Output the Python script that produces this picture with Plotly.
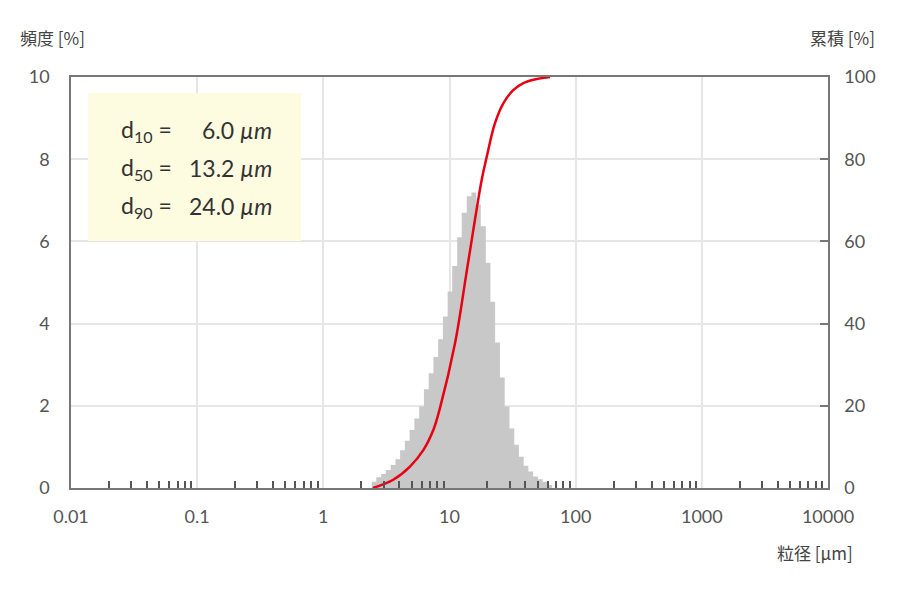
import plotly.graph_objects as go

# histogram bins (um) and frequency (%)
bin_edges = [2.42, 2.63, 2.87, 3.13, 3.42, 3.73, 4.06, 4.43, 4.83, 5.27,
             5.75, 6.27, 6.84, 7.46, 8.13, 8.87, 9.67, 10.5, 11.5, 12.5,
             13.7, 14.9, 16.3, 17.7, 19.4, 21.1, 23.0, 25.1, 27.4, 29.9,
             32.6, 35.5, 38.7, 42.2, 46.0, 50.2, 54.8, 59.7, 65.1]
freq = [0.15, 0.26, 0.34, 0.44, 0.56, 0.70, 0.92, 1.15, 1.41, 1.69,
        1.98, 2.40, 2.79, 3.19, 3.62, 4.17, 4.78, 5.40, 6.10, 6.70,
        7.10, 7.19, 6.90, 6.37, 5.48, 4.53, 3.54, 2.69, 1.98, 1.45,
        1.05, 0.76, 0.54, 0.40, 0.28, 0.21, 0.15, 0.07]

# cumulative curve (um, %)
cum_size = [2.47, 3.58, 4.86, 6.20, 7.44, 8.41, 11.06, 14.0, 18.0,
            19.7, 22.9, 26.7, 32.0, 38.5, 49.1, 62.6]
cum_pct = [0, 2.0, 5.2, 9.2, 14.1, 19.5, 35.2, 54.6, 75.0,
           80.5, 88.7, 93.6, 96.8, 98.5, 99.5, 100.0]

x_ticks = [0.01, 0.1, 1, 10, 100, 1000, 10000]
x_ticktext = ['0.01', '0.1', '1', '10', '100', '1000', '10000']
minor_ticks = [m * d for d in [0.01, 0.1, 1, 10, 100, 1000] for m in range(2, 10)]

stats_label = ['d<sub>10</sub> =', 'd<sub>50</sub> =', 'd<sub>90</sub> =']
stats_value = ['6.0 <i>µm</i>', '13.2 <i>µm</i>', '24.0 <i>µm</i>']

NUM_FONT = 'Lato'
JP_FONT = 'Noto Sans CJK JP'
GRID = '#e6e6e6'
FRAME = '#777777'

fig = go.Figure()

# stepped histogram
fig.add_trace(go.Scatter(
    x=bin_edges,
    y=freq + [0],
    mode='lines',
    line=dict(shape='hv', width=0, color='#c8c8c8'),
    fill='tozeroy',
    fillcolor='#c8c8c8',
    hoverinfo='skip'
))

fig.add_trace(go.Scatter(
    x=cum_size,
    y=cum_pct,
    mode='lines',
    line=dict(color='#e60012', width=2.5, shape='spline', smoothing=1),
    yaxis='y2'
))

fig.update_layout(
    width=900,
    height=596,
    margin=dict(l=71, r=72, t=77, b=108),
    plot_bgcolor='white',
    paper_bgcolor='white',
    showlegend=False,
    font=dict(family=NUM_FONT, size=18, color='#555'),
    xaxis=dict(
        type='log',
        range=[-2, 4],
        tickvals=x_ticks,
        ticktext=x_ticktext,
        showgrid=True,
        gridcolor=GRID,
        gridwidth=1.5,
        showline=True,
        linecolor=FRAME,
        linewidth=1.5,
        mirror=True,
        ticks='',
        ticklabelstandoff=12,
        minor=dict(tickmode='array', tickvals=minor_ticks, ticks='inside',
                   ticklen=7, tickwidth=1.5, tickcolor='#555', showgrid=False),
    ),
    yaxis=dict(
        range=[0, 10],
        dtick=2,
        showgrid=True,
        gridcolor=GRID,
        gridwidth=1.5,
        showline=True,
        linecolor=FRAME,
        linewidth=1.5,
        zeroline=False,
        ticks='',
        ticklabelstandoff=16,
    ),
    yaxis2=dict(
        overlaying='y',
        side='right',
        range=[0, 100],
        dtick=20,
        showgrid=False,
        showline=True,
        linecolor=FRAME,
        linewidth=1.5,
        zeroline=False,
        ticks='inside',
        ticklen=8,
        tickwidth=1.5,
        tickcolor=FRAME,
        ticklabelstandoff=11,
    ),
)

# d-value box
fig.add_shape(type='rect', xref='paper', yref='paper',
              x0=0.0225, x1=0.304, y0=0.601, y1=0.961,
              fillcolor='#fdfbe0', line=dict(width=0), layer='above')

for i, (lab, val) in enumerate(zip(stats_label, stats_value)):
    yy = 0.871 - i * 0.0925
    fig.add_annotation(text=lab, xref='paper', yref='paper', x=0.0634, y=yy,
                       xanchor='left', yanchor='middle', showarrow=False,
                       font=dict(family=NUM_FONT, size=23, color='#333'))
    fig.add_annotation(text=val, xref='paper', yref='paper', x=0.268, y=yy,
                       xanchor='right', yanchor='middle', showarrow=False,
                       font=dict(family=NUM_FONT, size=23, color='#333'))

# axis titles
fig.add_annotation(text='頻度 [%]', xref='paper', yref='paper',
                   x=-0.0700, y=1.097, xanchor='left', yanchor='middle',
                   showarrow=False, font=dict(family=JP_FONT, size=17, color='#444'))
fig.add_annotation(text='累積 [%]', xref='paper', yref='paper',
                   x=1.0647, y=1.097, xanchor='right', yanchor='middle',
                   showarrow=False, font=dict(family=JP_FONT, size=17, color='#444'))
fig.add_annotation(text='粒径 [µm]', xref='paper', yref='paper',
                   x=1.0357, y=-0.158, xanchor='right', yanchor='middle',
                   showarrow=False, font=dict(family=JP_FONT, size=17, color='#444'))

# drop the default page margin so the figure sits at the window origin
fig.write_html("out.html", config={'displayModeBar': False},
               post_script="document.body.style.margin='0px';")
